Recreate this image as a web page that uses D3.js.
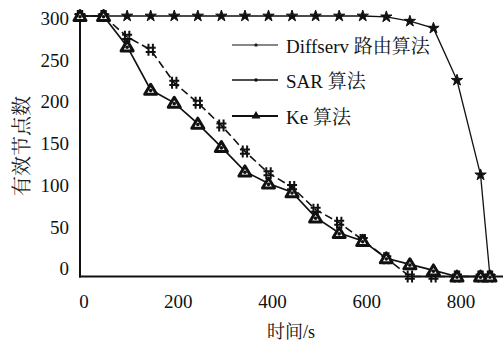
<!DOCTYPE html>
<html>
<head>
<meta charset="utf-8">
<script src="https://cdn.jsdelivr.net/npm/d3@7"></script>
<style>
  html, body { margin: 0; padding: 0; background: #fff; }
  svg { display: block; }
</style>
</head>
<body>
<svg id="chart" width="503" height="343"></svg>
<script>
// Time samples (s)
const times = [0, 50, 100, 150, 200, 250, 300, 350, 400, 450, 500, 550, 600, 650, 700, 750, 800, 850, 870];
// Number of valid nodes for each algorithm
const diffserv = [300, 300, 300, 300, 300, 300, 300, 300, 300, 300, 300, 300, 300, 299, 294, 286, 226, 117, 0];
const sar      = [300, 300, 276, 261, 223, 200, 174, 144, 119, 103, 77, 62, 42, 21, 0, 0, 0, 0, 0];
const ke       = [300, 300, 265, 215, 200, 176, 149, 121, 107, 97, 68, 50, 41, 21, 14, 7, 0, 0, 0];

const xTicks = [0, 200, 400, 600, 800];
const yTicks = [0, 50, 100, 150, 200, 250, 300];
const seriesNames = ["Diffserv 路由算法", "SAR 算法", "Ke 算法"];
const xTitle = "时间/s";
const yTitle = "有效节点数";

const FONT = "Liberation Serif, Noto Serif CJK SC, serif";
const CJK_FONT = "Noto Serif CJK SC, Liberation Serif, serif";
const INK = "#111";

const svg = d3.select("#chart");

const x = d3.scaleLinear().domain([0, 800]).range([80, 457]);
const y = d3.scaleLinear().domain([0, 300]).range([276.5, 16]);
// tick labels sit on a slightly tighter grid than the plotted data
const yLab = d3.scaleLinear().domain([0, 300]).range([268.5, 18]);

// axes lines
svg.append("line").attr("x1", 80).attr("x2", 80).attr("y1", 13).attr("y2", 277.5)
  .attr("stroke", INK).attr("stroke-width", 2);
svg.append("line").attr("x1", 79).attr("x2", 503).attr("y1", 276.5).attr("y2", 276.5)
  .attr("stroke", INK).attr("stroke-width", 2);

// y tick labels
const yAxis = svg.append("g").attr("transform", "translate(69,0)")
  .call(d3.axisLeft(yLab).tickValues(yTicks).tickSize(0).tickPadding(0))
  .attr("font-family", FONT).attr("font-size", 19);
yAxis.select(".domain").remove();
yAxis.selectAll("text").attr("dy", "0.34em").attr("fill", INK);

// x tick labels
const xAxis = svg.append("g").attr("transform", "translate(3.5,308)")
  .call(d3.axisBottom(x).tickValues(xTicks).tickSize(0).tickPadding(0))
  .attr("font-family", FONT).attr("font-size", 19);
xAxis.select(".domain").remove();
xAxis.selectAll("text").attr("dy", 0).attr("fill", INK);

// axis titles
svg.append("text").attr("x", 291).attr("y", 338).attr("text-anchor", "middle")
  .attr("font-family", FONT).attr("font-size", 18).attr("fill", INK).text(xTitle);
svg.append("text").attr("transform", "translate(29,146) rotate(-90)")
  .attr("text-anchor", "middle").attr("font-family", CJK_FONT).attr("font-size", 20)
  .attr("fill", "#222").text(yTitle);

const line = d3.line().x((d, i) => x(times[i])).y(d => y(d));

// marker shapes
const starPath = d3.symbol().type(d3.symbolStar).size(40)();
const hashPath = "M-2.2,-6V6M2.2,-6V6M-5,-2H5M-5,2.2H5";
const triPath = "M0,-5.5L6,4.5L-6,4.5Z";

// Diffserv
svg.append("path").datum(diffserv).attr("d", line)
  .attr("fill", "none").attr("stroke", INK).attr("stroke-width", 1.3);
svg.append("g").selectAll("path").data(diffserv).join("path")
  .attr("transform", (d, i) => `translate(${x(times[i])},${y(d)})`)
  .attr("d", starPath).attr("fill", INK).attr("stroke", INK).attr("stroke-width", 1);

// SAR
svg.append("path").datum(sar).attr("d", line)
  .attr("fill", "none").attr("stroke", INK).attr("stroke-width", 1.6)
  .attr("stroke-dasharray", "8,4");
svg.append("g").selectAll("path").data(sar).join("path")
  .attr("transform", (d, i) => `translate(${x(times[i])},${y(d)})`)
  .attr("d", hashPath).attr("fill", "none").attr("stroke", INK).attr("stroke-width", 2);

// Ke
svg.append("path").datum(ke).attr("d", line)
  .attr("fill", "none").attr("stroke", INK).attr("stroke-width", 1.7);
const keG = svg.append("g").selectAll("g").data(ke).join("g")
  .attr("transform", (d, i) => `translate(${x(times[i])},${y(d)})`);
keG.append("path").attr("d", triPath).attr("fill", "#fff")
  .attr("stroke", INK).attr("stroke-width", 3).attr("stroke-linejoin", "round");
keG.append("circle").attr("r", 1.8).attr("cy", 0.8).attr("fill", INK);

// legend
const legendY = [45, 80, 116];
const lg = svg.append("g");
seriesNames.forEach((name, i) => {
  const ly = legendY[i];
  lg.append("line").attr("x1", 232).attr("x2", 278).attr("y1", ly).attr("y2", ly)
    .attr("stroke", INK).attr("stroke-width", [1.2, 1.4, 2.2][i]);
  if (i === 0) {
    lg.append("path").attr("transform", `translate(256,${ly})`)
      .attr("d", d3.symbol().type(d3.symbolStar).size(8)()).attr("fill", INK);
  } else if (i === 1) {
    lg.append("circle").attr("cx", 256).attr("cy", ly).attr("r", 1.8).attr("fill", INK);
  } else {
    lg.append("path").attr("transform", `translate(256,${ly - 1})`)
      .attr("d", "M0,-4L4.5,3.5L-4.5,3.5Z").attr("fill", INK);
  }
  lg.append("text").attr("x", 286).attr("y", ly + 8)
    .attr("font-family", FONT).attr("font-size", 19).attr("fill", INK).text(name);
});
</script>
</body>
</html>
